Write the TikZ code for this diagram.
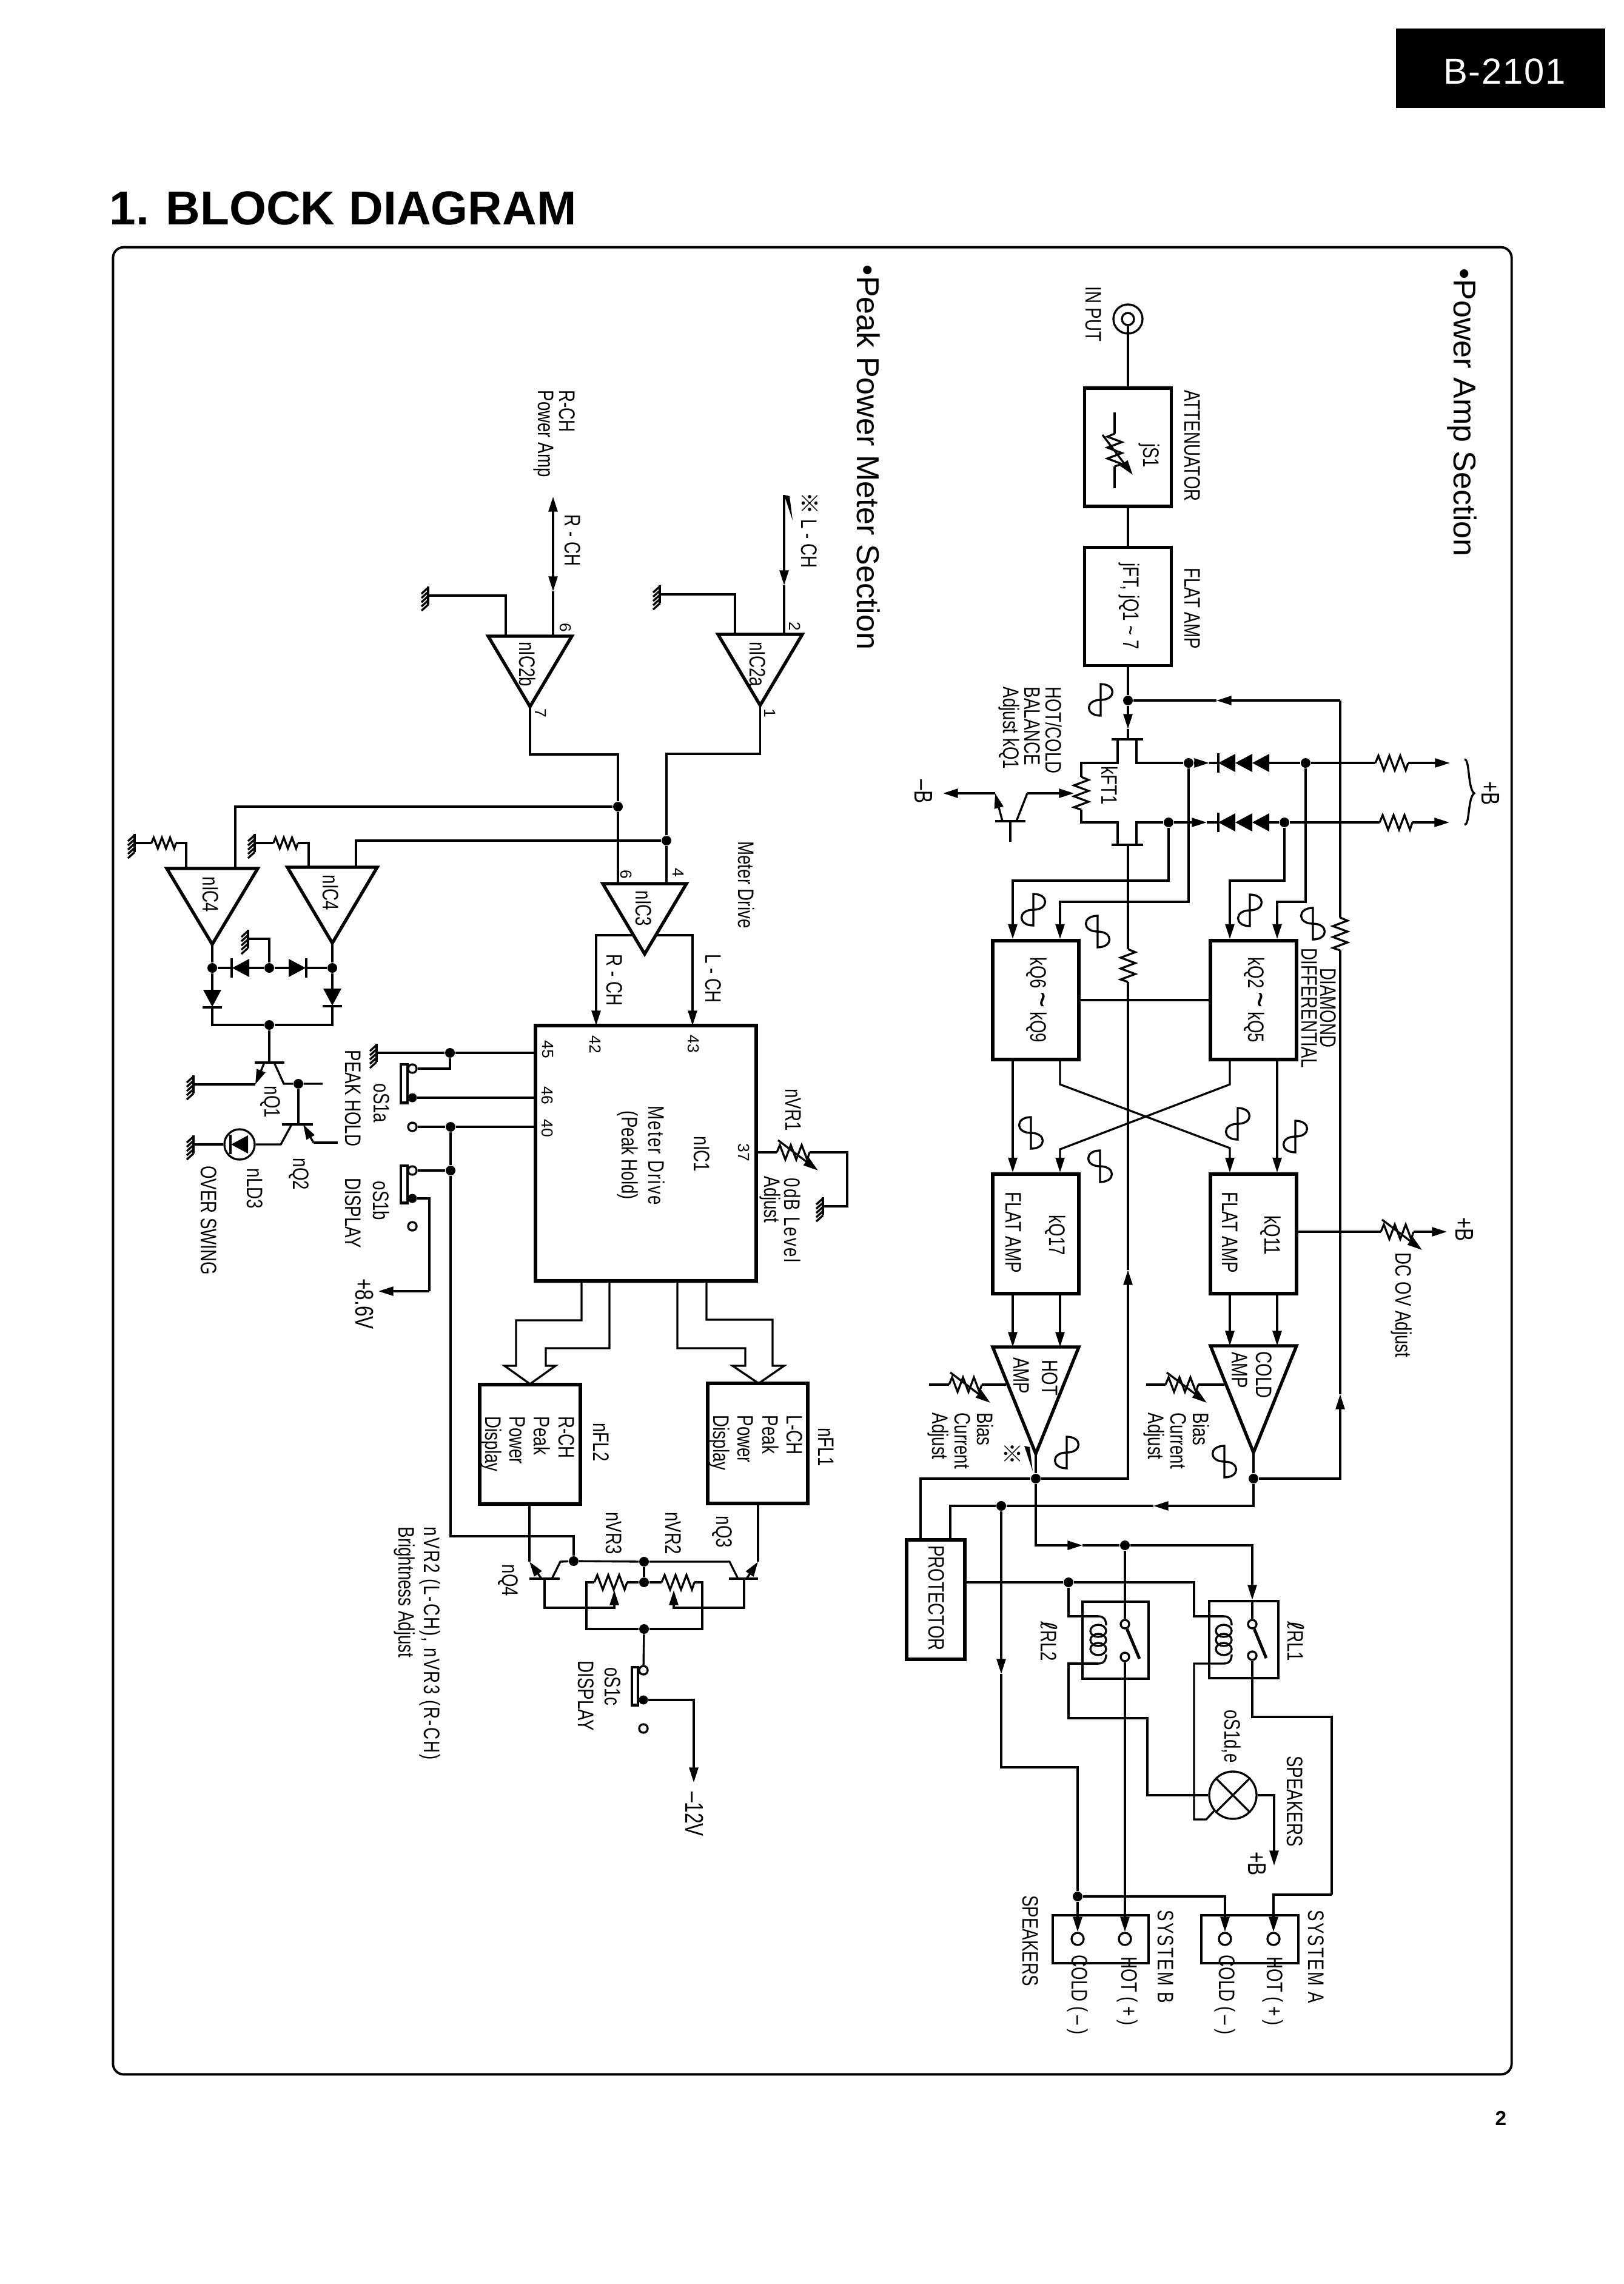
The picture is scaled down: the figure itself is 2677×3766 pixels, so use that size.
\documentclass[tikz,border=0pt]{standalone}
\usepackage{fontspec}
\usetikzlibrary{arrows.meta}
\setmainfont{Liberation Sans}
\newfontfamily\narrowfont[FakeStretch=0.75]{Liberation Sans}
\newfontfamily\spacedfont[FakeStretch=0.75,LetterSpace=6]{Liberation Sans}
\newfontfamily\badgefont[LetterSpace=3]{Liberation Sans}
\newfontfamily\cjkmark{Noto Sans CJK JP}
\newfontfamily\symfont{DejaVu Sans}
\newcommand{\zigzag}{(-27,0) -- (-22,-12) -- (-13,12) -- (-4,-12) -- (5,12) -- (14,-12) -- (23,12) -- (27,0)}
\newcommand{\wavytilde}{{\fontsize{17pt}{10pt}\selectfont\textasciitilde}}
% amplifier triangle: name, top centre x, top y, half width, apex y
\newcommand{\ampblock}[5]{%
  \coordinate (#1) at (#2,#3);
  \coordinate (#1-o) at (#2,#5);
  \draw[blockline] (#2-#4,#3) -- (#2+#4,#3) -- (#2,#5) -- cycle;
}

\begin{document}
\begin{tikzpicture}[
  x=0.01cm, y=-0.01cm,
  wire/.style={line width=0.95pt},
  barline/.style={line width=1.4pt},
  blockline/.style={line width=1.5pt, line join=miter},
  tipmark/.tip={Triangle[length=7pt, width=4.2pt]},
  arr/.style={wire, -tipmark},
  blockbox/.style 2 args={draw, line width=1.5pt, minimum width=#1*0.01cm, minimum height=#2*0.01cm, inner sep=0},
  thinbox/.style 2 args={draw, line width=1.1pt, minimum width=#1*0.01cm, minimum height=#2*0.01cm, inner sep=0},
  jdot/.style={circle, fill, inner sep=0, minimum size=0.16cm},
  odot/.style={circle, draw, wire, inner sep=0, minimum size=0.14cm},
  termdot/.style={circle, draw, wire, inner sep=0, minimum size=0.2cm},
  lbl/.style={rotate=-90, inner sep=0, align=left, font=\narrowfont\fontsize{10.5pt}{10pt}\selectfont},
  pinlbl/.style={rotate=-90, inner sep=0, font=\fontsize{7.5pt}{8pt}\selectfont},
  seclbl/.style={rotate=-90, inner sep=0, font=\fontsize{14.8pt}{16pt}\selectfont},
  pics/res/.style={code={
    \draw[wire] \zigzag;
    \coordinate (-a) at (-27,0);
    \coordinate (-b) at (27,0);
  }},
  pics/varres/.style={code={
    \draw[wire] \zigzag;
    \draw[arr] (-25,-20) -- (41,30);
    \coordinate (-a) at (-27,0);
    \coordinate (-b) at (27,0);
  }},
  pics/gnd/.style={code={
    \draw[barline] (0,-15) -- (0,15);
    \foreach \t in {-13,-6,1,8,15} {\draw[wire] (0,\t) -- (-11,\t+10);}
    \coordinate (-w) at (0,0);
  }},
  pics/diode/.style={code={
    \fill (-14,-15) -- (14,0) -- (-14,15) -- cycle;
    \draw[barline] (15,-16) -- (15,16);
    \coordinate (-a) at (-14,0);
    \coordinate (-b) at (15,0);
  }},
  pics/diodestack/.style={code={
    \foreach \d in {-28,0,28} {\fill (\d-14,-15) -- (\d+14,0) -- (\d-14,15) -- cycle;}
    \draw[barline] (42,-16) -- (42,16);
    \coordinate (-a) at (-42,0);
    \coordinate (-b) at (42,0);
  }},
  pics/wave/.style={code={
    \draw[wire] (0,-26) .. controls (26,-26) and (26,0) .. (0,0) .. controls (-26,0) and (-26,26) .. (0,26) -- cycle;
  }},
  pics/wedge/.style={code={
    \fill (-7,-22) -- (2,-20) -- (7,20) -- cycle;
  }},
  pics/coil/.style={code={
    \draw[wire] (0,-39) .. controls (10,-39) and (13,-32) .. (13,-24);
    \draw[wire] (0,39) .. controls (10,39) and (13,32) .. (13,24);
    \foreach \c in {-15,0,15} {\draw[wire] (0,\c) ellipse [x radius=13, y radius=10];}
    \coordinate (-a) at (0,-39);
    \coordinate (-b) at (0,39);
  }}
]
\path[fill=white] (0,0) rectangle (2677,3766);

% page furniture
\node[fill=black, minimum width=3.45cm, minimum height=1.31cm, inner sep=0] (badge) at (2474.5,112.5) {};
\node[text=white, inner sep=0, font=\badgefont\fontsize{17pt}{18pt}\selectfont] (badgetxt) at (2481,118) {B-2101};
\node[anchor=west, inner sep=0, font=\bfseries\fontsize{22.3pt}{24pt}\selectfont] (title) at (180,343) {1.\hspace{.35em}BLOCK\hspace{.3em}DIAGRAM};
\node[inner sep=0, font=\bfseries\fontsize{9.5pt}{10pt}\selectfont] (pageno) at (2475,3493) {2};
\node[draw, line width=1.1pt, rounded corners=5pt, minimum width=23.05cm, minimum height=30.11cm, inner sep=0] (frame) at (1339.5,1914) {};
\node[seclbl] (secpower) at (2411,680) {•Power Amp Section};
\node[seclbl] (secmeter) at (1432,754) {•Peak Power Meter Section};

% power amp blocks
\node[blockbox={143}{195}] (atbox) at (1860,737.5) {};
\node[blockbox={143}{195}] (flat1) at (1860,1000) {};
\node[blockbox={142}{196}] (kq69) at (1708,1649) {};
\node[blockbox={142}{196}] (kq25) at (2067,1649) {};
\node[blockbox={142}{197}] (kq17) at (1708,2034.5) {};
\node[blockbox={142}{197}] (kq11) at (2067,2034.5) {};
\node[blockbox={96}{197}] (protector) at (1543,2637.5) {};
\node[thinbox={109}{127}] (rl2) at (1839.5,2704.5) {};
\node[thinbox={114}{127}] (rl1) at (2051,2703.5) {};
\node[thinbox={158}{79}] (spkb) at (1815,3197.5) {};
\node[thinbox={160}{79}] (spka) at (2061,3197.5) {};
\ampblock{hotamp}{1708}{2221}{71}{2397}
\ampblock{coldamp}{2067}{2219}{71}{2395}

% meter blocks
\node[blockbox={364}{421}] (nic1) at (1065,1901.5) {};
\node[blockbox={166}{197}] (nfl2) at (874,2381.5) {};
\node[blockbox={165}{198}] (nfl1) at (1249.5,2380) {};
\ampblock{nictwob}{874}{1049}{69}{1165}
\ampblock{nictwoa}{1253.5}{1046}{69.5}{1163}
\ampblock{nicthree}{1063}{1457}{69}{1573}
\ampblock{nicfourl}{350}{1432}{75}{1557}
\ampblock{nicfourr}{548}{1430}{74}{1555}

% junctions
\foreach \n/\x/\y in {indot/1860/1155, dotu/1960/1258, dotv/2153/1258, dotw/1927/1356, dotx/2118/1356,
    dothot/1708/2438, dotcold/2067/2438, dotspk/1651/2483, dotrel/1855/2548, dotcoil/1762/2609, dotb/1777/3127,
    dotma/1019/1330, dotmb/1099/1386, dfl/350/1596, dfr/548/1596, dfm/444/1596, dfb/444/1690, dotq/492/1787,
    dot45/742/1736, dot40/743/1858, dotsb/743/1930, dotnq/946/2574, dottop/1062/2575, dotmid/1062/2609, dotlow/1062/2686}
  \node[jdot] (\n) at (\x,\y) {};
\foreach \n/\x/\y in {swta/1855/2678, swba/1855/2732, swtb/2065/2678, swbb/2065/2730,
    opa/680/1762, opb/680/1858, opc/680/1930, opd/680/2022, ope/1061/2754, opf/1061/2850}
  \node[odot] (\n) at (\x,\y) {};
\foreach \n/\x/\y in {fla/680/1810, flb/680/1976, flc/1061/2803}
  \node[jdot, minimum size=0.15cm] (\n) at (\x,\y) {};
\foreach \n/\x/\y in {termbc/1777/3197, termbh/1855/3197, termac/2020/3197, termah/2100/3197}
  \node[termdot] (\n) at (\x,\y) {};
\node[circle, draw, wire, inner sep=0, minimum size=0.48cm] (jack) at (1860,526) {};
\node[circle, draw, wire, inner sep=0, minimum size=0.2cm] (jackin) at (1860,526) {};
\node[circle, draw, wire, inner sep=0, minimum size=0.78cm] (lamp) at (2033,2960) {};
\node[circle, draw, wire, inner sep=0, minimum size=0.5cm] (led) at (395,1887) {};
\node[draw, barline, minimum width=0.11cm, minimum height=0.63cm, inner sep=0] (swa) at (666.5,1786.5) {};
\node[draw, barline, minimum width=0.11cm, minimum height=0.61cm, inner sep=0] (swb) at (666.5,1952.5) {};
\node[draw, barline, minimum width=0.1cm, minimum height=0.62cm, inner sep=0] (swc) at (1047,2780) {};

% routing points
\foreach \n/\x/\y in {gatearr/1860/1202, kgate/1860/1219, kftal/1833/1219, kftar/1885/1219, kftdl/1843/1219, kftdr/1874/1219,
    kftbl/1833/1393, kftbr/1885/1393, kftsl/1843/1393, kftsr/1874/1393, kftsrc/1860/1393,
    baltop/1783/1258, balbot/1783/1356, balwip/1771/1308,
    arru/1994/1258, arrw/1990/1356, plust/2391/1258, plusb/2390/1356,
    bracea/2415/1252, braceb/2415/1360, bracem/2431/1308,
    qal/1641/1354, qar/1691/1354, qbase/1666/1354, qbaseend/1666/1388, qcol/1676/1354, qcolk/1694/1308, qem/1653/1354, qemk/1641/1308, minusb/1555/1308,
    fbtip/2006/1155, fbcor/2210/1155, fbup/2210/2299, hfup/1860/2094,
    ka/1670/1452, kb/1748/1487, kc/2028/1452, kd/2106/1487,
    xa/1748/1788, xb/2028/1893, xc/2028/1788, xd/1748/1895,
    plusdc/2386/2031, hbl/1532/2283, hbr/1659/2283, cbl/1890/2283, cbr/2019/2283,
    atup/1838/680, atdn/1838/805,
    prl/1518/2539, prr/1567/2539, spkarr/1902/2483, spkdn/1651/2760, spkcor/1651/2914, spkc/1777/2914,
    hotarr/1785/2548, swarr/2065/2638, bla/1879/2735, blb/2088/2734, rela/2196/2831, relb/2196/3124,
    cta/1969/2609, cwa/1762/2833, cwb/1892/2833, cwc/1969/3000, cwd/1989/3000, lampout/2101/3076}
  \coordinate (\n) at (\x,\y);
\foreach \n/\x/\y in {pbg/834/1049, pbs/912/1049, rup/912/819, rmid/912/975, pag/1212/1046, pas/1293/1046, lup/1293/816, lmid/1293/965,
    mca/1019/1244, mcb/1099/1243, pta/1019/1457, ptb/1099/1457, pfa/388/1431, pfb/587/1429, pfc/307/1432, pfd/509/1430,
    ool/1045/1542, oor/1081/1542, pin42/983/1691, pin43/1142/1691, vzero/1397/1900, vzerog/1397/1989,
    qbar/444/1752, nqal/420/1752, nqar/469/1752, nqe/436/1752, nqek/421/1788, nqc/452/1752, nqck/468/1787, nqst/532/1787,
    nqbl/465/1854, nqbr/516/1854, nqbc/492/1854, nql/481/1854, nqlk/463/1887, nqr/500/1854, nqrk/517/1884, nqrs/557/1884,
    sbb/708/2129, plus86/624/2129, cfa/743/2533, cfb/946/2533, busa/959/2112, busb/1005/2112, busc/1117/2112, busd/1165/2112,
    npc/873/2575, npal/873/2603, npar/923/2603, npe/893/2603, npk/910/2603, npkk/924/2575, npb/898/2603, npw/1013/2651, npt/1013/2622,
    nrc/1250/2575, nral/1202/2603, nrar/1250/2603, nre/1231/2603, nrk/1217/2603, nrkk/1203/2575, nrb/1227/2603, nrw/1111/2651, nrt/1111/2622,
    vll/967/2609, vrr/1158/2609, minus12/1144/2939}
  \coordinate (\n) at (\x,\y);

% resistors, diodes, grounds
\pic[rotate=-90,yscale=-1] (atres) at (1838,742) {varres};
\pic[rotate=-90] (balres) at (1783,1308) {res};
\pic (rtop) at (2295,1258) {res};
\pic (rbot) at (2302,1356) {res};
\pic[rotate=-90] (fbres) at (2210,1540) {res};
\pic[rotate=-90] (hfres) at (1860,1592) {res};
\pic (dcres) at (2304,2031) {varres};
\pic (hbias) at (1592,2283) {varres};
\pic (cbias) at (1949,2283) {varres};
\pic[rotate=180] (dsta) at (2051,1258) {diodestack};
\pic[rotate=180] (dstb) at (2051,1356) {diodestack};
\pic (coilb) at (1811,2704) {coil};
\pic (coila) at (2018,2704) {coil};
\pic (zerores) at (1308,1900) {varres};
\pic[scale=.75] (rfl) at (270,1390) {res};
\pic[scale=.75] (rfr) at (471,1390) {res};
\pic (vrthree) at (1007,2609) {res};
\pic (vrtwo) at (1118,2609) {res};
\pic[rotate=180] (dha) at (397,1596) {diode};
\pic (dhb) at (490,1596) {diode};
\pic[rotate=-90] (dva) at (350,1646) {diode};
\pic[rotate=-90] (dvb) at (548,1644) {diode};
\pic[rotate=180] (dled) at (395,1887) {diode};
\foreach \n/\x/\y in {gndb/706/982, gnda/1088/980, gfl/222/1390, gfr/420/1390, gfm/409/1548, gqa/319/1788, gqb/319/1887, gsw/621/1736, gzero/1357/1989}
  \pic (\n) at (\x,\y) {gnd};
\pic (wedgehot) at (1696,2406) {wedge};
\pic (wedgeltop) at (1300,838) {wedge};
\foreach \n/\x/\y/\s in {wa/1815/1154/1, wb/1704/1500/1, wc/1810/1536/-1, wd/2061/1501/1, we/2165/1523/-1, wf/1700/1868/-1,
    wg/1814/1923/-1, wh/2041/1853/1, wi/2136/1874/1, wj/1759/2395/1, wk/2019/2410/-1}
  \pic[xscale=\s] (\n) at (\x,\y) {wave};

% input and FET stage
\draw[wire] (jackin) -- (atbox);
\draw[wire] (atbox) -- (flat1);
\draw[wire] (flat1) -- (indot);
\draw[wire] (atup) -- (atres-a);
\draw[wire] (atres-b) -- (atdn);
\draw[arr] (indot) -- (gatearr);
\draw[wire] (gatearr) -- (kgate);
\draw[barline] (kftal) -- (kftar);
\draw[barline] (kftbl) -- (kftbr);
\draw[wire] (kftdr) |- (dotu);
\draw[wire] (kftdl) |- (baltop) -- (balres-a);
\draw[wire] (balres-b) -- (balbot) -| (kftsl);
\draw[wire] (kftsr) |- (dotw);
\draw[arr] (dotu) -- (arru);
\draw[wire] (arru) -- (dsta-b);
\draw[wire] (dsta-a) -- (dotv) -- (rtop-a);
\draw[arr] (rtop-b) -- (plust);
\draw[arr] (dotw) -- (arrw);
\draw[wire] (arrw) -- (dstb-b);
\draw[wire] (dstb-a) -- (dotx) -- (rbot-a);
\draw[arr] (rbot-b) -- (plusb);
\draw[wire] (bracea) .. controls (2424,1252) and (2420,1300) .. (bracem) .. controls (2420,1316) and (2424,1360) .. (braceb);

% balance transistor
\draw[barline] (qal) -- (qar);
\draw[wire] (qbase) -- (qbaseend);
\draw[wire] (qcol) -- (qcolk);
\draw[arr] (qcolk) -- (balwip);
\draw[arr] (qem) -- (qemk);
\draw[arr] (qemk) -- (minusb);

% differential, cross coupling and output stages
\draw[arr] (dotw) |- (ka) -- (ka |- kq69.north);
\draw[arr] (dotu) |- (kb) -- (kb |- kq69.north);
\draw[arr] (dotx) |- (kc) -- (kc |- kq25.north);
\draw[arr] (dotv) |- (kd) -- (kd |- kq25.north);
\draw[wire] (kq69) -- (kq25);
\draw[arr] (ka |- kq69.south) -- (ka |- kq17.north);
\draw[arr] (kd |- kq25.south) -- (kd |- kq11.north);
\draw[arr] (kb |- kq69.south) -- (xa) -- (xb) -- (xb |- kq11.north);
\draw[arr] (kc |- kq25.south) -- (xc) -- (xd) -- (xd |- kq17.north);
\draw[arr] (ka |- kq17.south) -- (ka |- hotamp);
\draw[arr] (kb |- kq17.south) -- (kb |- hotamp);
\draw[arr] (kc |- kq11.south) -- (kc |- coldamp);
\draw[arr] (kd |- kq11.south) -- (kd |- coldamp);
\draw[wire] (kq11.east |- plusdc) -- (dcres-a);
\draw[arr] (dcres-b) -- (plusdc);
\draw[wire] (hbl) -- (hbias-a);
\draw[wire] (hbias-b) -- (hbr);
\draw[wire] (cbl) -- (cbias-a);
\draw[wire] (cbias-b) -- (cbr);
\draw[wire] (hotamp-o) -- (dothot);
\draw[wire] (coldamp-o) -- (dotcold);

% feedback paths
\draw[arr] (dotcold) -| (fbup);
\draw[wire] (fbup) -- (fbres-b);
\draw[wire] (fbres-a) -- (fbcor);
\draw[arr] (fbcor) -- (fbtip);
\draw[wire] (fbtip) -- (indot);
\draw[arr] (dothot) -| (hfup);
\draw[wire] (hfup) -- (hfres-b);
\draw[wire] (hfres-a) -- (kftsrc);

% protector, relays, speakers
\draw[wire] (dothot) -| (prl);
\draw[arr] (dotcold) |- (spkarr);
\draw[wire] (spkarr) -- (dotspk) -| (prr);
\draw[arr] (dotspk) -- (spkdn);
\draw[wire] (spkdn) -- (spkcor) -- (spkc) -- (dotb);
\draw[arr] (dotb) -- (termbc);
\draw[arr] (dotb) -| (termac);
\draw[arr] (dothot) |- (hotarr);
\draw[wire] (hotarr) -- (dotrel) -- (swta);
\draw[arr] (dotrel) -| (swarr);
\draw[wire] (swarr) -- (swtb);
\draw[barline] (swta) -- (bla);
\draw[barline] (swtb) -- (blb);
\draw[arr] (swba) -- (termbh);
\draw[wire] (swbb) |- (rela) -- (relb);
\draw[arr] (relb) -| (termah);
\draw[wire] (protector.east |- dotcoil) -- (dotcoil) -- (cta) |- (coila-a);
\draw[wire] (dotcoil) |- (coilb-a);
\draw[wire] (coilb-b) -| (cwa) -- (cwb) |- (lamp);
\draw[wire] (coila-b) -| (cwc) -- (cwd) -- (lamp.220);
\draw[wire] (lamp.45) -- (lamp.225);
\draw[wire] (lamp.135) -- (lamp.315);
\draw[arr] (lamp) -| (lampout);

% meter input amps
\draw[wire] (gndb-w) -| (pbg);
\draw[wire, tipmark-tipmark] (rup) -- (rmid);
\draw[wire] (rmid) -- (pbs);
\draw[wire] (gnda-w) -| (pag);
\draw[arr] (lup) -- (lmid);
\draw[wire] (lmid) -- (pas);
\draw[wire] (nictwob-o) |- (mca) -- (dotma) -- (pta);
\draw[wire] (nictwoa-o) |- (mcb) -- (dotmb) -- (ptb);
\draw[wire] (dotma) -| (pfa);
\draw[wire] (dotmb) -| (pfb);
\draw[arr] (ool) -| (pin42);
\draw[arr] (oor) -| (pin43);

% over swing detector
\draw[wire] (gfl-w) -- (rfl-a);
\draw[wire] (rfl-b) -| (pfc);
\draw[wire] (gfr-w) -- (rfr-a);
\draw[wire] (rfr-b) -| (pfd);
\draw[wire] (nicfourl-o) -- (dfl);
\draw[wire] (nicfourr-o) -- (dfr);
\draw[wire] (dfl) -- (dha-b);
\draw[wire] (dha-a) -- (dfm) -- (dhb-a);
\draw[wire] (dhb-b) -- (dfr);
\draw[wire] (dfm) |- (gfm-w);
\draw[wire] (dfl) -- (dva-a);
\draw[wire] (dfr) -- (dvb-a);
\draw[wire] (dva-b) |- (dfb);
\draw[wire] (dvb-b) |- (dfb);
\draw[wire] (dfb) -- (qbar);
\draw[barline] (nqal) -- (nqar);
\draw[arr] (nqe) -- (nqek);
\draw[wire] (nqek) -- (gqa-w);
\draw[wire] (nqc) -- (nqck) -- (dotq) -- (nqst);
\draw[wire] (dotq) -- (nqbc);
\draw[barline] (nqbl) -- (nqbr);
\draw[wire] (nql) -- (nqlk) -- (led);
\draw[wire] (led) -- (gqb-w);
\draw[arr] (nqrk) -- (nqr);
\draw[wire] (nqrs) -- (nqrk);

% peak hold and display switches
\draw[wire] (gsw-w) -- (dot45) -- (nic1.west |- dot45);
\draw[wire] (opa) -| (dot45);
\draw[wire] (fla) -- (nic1.west |- fla);
\draw[wire] (opb) -- (dot40) -- (nic1.west |- dot40);
\draw[wire] (dot40) -- (dotsb) -- (opc);
\draw[wire] (flb) -| (sbb);
\draw[arr] (sbb) -- (plus86);
\draw[wire] (dotsb) -- (cfa) -- (cfb) -- (dotnq);
\draw[wire] (nic1.east |- zerores-a) -- (zerores-a);
\draw[wire] (zerores-b) -- (vzero) -- (vzerog) -- (gzero-w);

% hollow bus arrows to the displays
\draw[wire] (busa) -- (959,2177) -- (851,2177) -- (851,2252) -- (832,2252) -- (874,2282) -- (916,2252) -- (900,2252) -- (900,2223) -- (1005,2223) -- (busb);
\draw[wire] (busc) -- (1117,2223) -- (1229,2223) -- (1229,2252) -- (1208,2252) -- (1251,2281) -- (1293,2252) -- (1274,2252) -- (1274,2176) -- (1165,2176) -- (busd);

% display drive and brightness
\draw[wire] (nfl2.south -| npc) -- (npc);
\draw[barline] (npal) -- (npar);
\draw[arr] (npe) -- (npc);
\draw[wire] (npk) -- (npkk) -- (dotnq) -- (dottop) -- (nrkk) -- (nrk);
\draw[barline] (nral) -- (nrar);
\draw[arr] (nre) -- (nrc);
\draw[wire] (nrc) -- (nfl1.south -| nrc);
\draw[arr] (npb) |- (npw) -- (npt);
\draw[arr] (nrb) |- (nrw) -- (nrt);
\draw[wire] (dottop) -- (dotmid);
\draw[wire] (vrthree-b) -- (dotmid) -- (vrtwo-a);
\draw[wire] (vrthree-a) -- (vll) |- (dotlow);
\draw[wire] (vrtwo-b) -- (vrr) |- (dotlow);
\draw[wire] (dotlow) -- (ope);
\draw[arr] (flc) -| (minus12);

% labels, power amp side
\node[lbl] (tinput) at (1803,518) {IN PUT};
\node[lbl] (tatt) at (1966,735) {ATTENUATOR};
\node[lbl] (tjs) at (1895,751) {jS1};
\node[lbl] (tflat) at (1966,1003) {FLAT AMP};
\node[lbl] (tjft) at (1862,1000) {jFT, jQ1 \textasciitilde\ 7};
\node[lbl, anchor=west] (tbal) at (1699,1132) {HOT/COLD\\BALANCE\\Adjust kQ1};
\node[lbl] (tkft) at (1830,1295) {kFT1};
\node[lbl] (tminus) at (1523,1305) {\fontsize{12pt}{12pt}\selectfont \textendash B};
\node[lbl] (tplus) at (2458,1308) {\fontsize{12pt}{12pt}\selectfont +B};
\node[lbl] (tkqa) at (1709,1649) {kQ6\,\wavytilde\,kQ9};
\node[lbl] (tkqb) at (2068,1649) {kQ2\,\wavytilde\,kQ5};
\node[lbl, align=center] (tdiam) at (2175,1662) {DIAMOND\\[-1pt]DIFFERENTIAL};
\node[lbl] (tflatc) at (1671,2032) {FLAT AMP};
\node[lbl] (tkqc) at (1740,2037) {kQ17};
\node[lbl] (tflatd) at (2028,2032) {FLAT AMP};
\node[lbl] (tkqd) at (2095,2037) {kQ11};
\node[lbl] (tplusb) at (2415,2027) {\fontsize{12pt}{12pt}\selectfont +B};
\node[lbl] (tdc) at (2311,2152) {DC OV Adjust};
\node[lbl] (thot) at (1731,2272) {HOT};
\node[lbl] (tampa) at (1684,2268) {AMP};
\node[lbl] (tcold) at (2084,2267) {COLD};
\node[lbl] (tampb) at (2044,2259) {AMP};
\node[lbl, anchor=west] (tbiasa) at (1584,2329) {Bias\\[0.5pt]Current\\[0.5pt]Adjust};
\node[lbl, anchor=west] (tbiasb) at (1940,2329) {Bias\\[0.5pt]Current\\[0.5pt]Adjust};
\node[lbl] (tmarka) at (1669,2397) {\cjkmark ※};
\node[lbl] (tprot) at (1544,2635) {PROTECTOR};
\node[lbl] (trlb) at (1730,2706) {{\symfont ℓ}RL2};
\node[lbl] (trla) at (2137,2706) {{\symfont ℓ}RL1};
\node[lbl] (tsw) at (2030,2863) {oS1d,e};
\node[lbl] (tspka) at (2135,2970) {SPEAKERS};
\node[lbl] (tplusc) at (2073,3073) {\fontsize{12pt}{12pt}\selectfont +B};
\node[lbl] (tspkb) at (1699,3200) {SPEAKERS};
\node[lbl] (tsysb) at (1922,3226) {\spacedfont SYSTEM B};
\node[lbl] (tsysa) at (2170,3226) {\spacedfont SYSTEM A};
\node[lbl] (tcolb) at (1777,3289) {COLD\ (\,\textendash\,)};
\node[lbl] (thotb) at (1859,3283) {HOT\ (\,+\,)};
\node[lbl] (tcola) at (2020,3289) {COLD\ (\,\textendash\,)};
\node[lbl] (thota) at (2099,3283) {HOT\ (\,+\,)};

% labels, meter side
\node[lbl, anchor=west] (trch) at (914,643) {R-CH\\Power Amp};
\node[lbl] (trchb) at (944,891) {R - CH};
\node[lbl] (tlch) at (1335,874) {{\cjkmark ※} L - CH};
\node[lbl] (tnb) at (870,1095) {nIC2b};
\node[lbl] (tna) at (1249,1095) {nIC2a};
\node[pinlbl] (tpsix) at (933,1035) {6};
\node[pinlbl] (tpseven) at (892,1176) {7};
\node[pinlbl] (tptwo) at (1311,1033) {2};
\node[pinlbl] (tpone) at (1270,1176) {1};
\node[lbl] (tnc) at (1061,1498) {nIC3};
\node[pinlbl] (tpsixb) at (1033,1442) {6};
\node[pinlbl] (tpfour) at (1119,1439) {4};
\node[lbl] (tmeter) at (1231,1459) {Meter Drive};
\node[lbl] (trchc) at (1013,1616) {R - CH};
\node[lbl] (tlchc) at (1176,1613) {L - CH};
\node[lbl] (tnd) at (347,1475) {nIC4};
\node[lbl] (tne) at (545,1472) {nIC4};
\node[pinlbl] (tpa) at (982,1722) {42};
\node[pinlbl] (tpb) at (1144,1721) {43};
\node[pinlbl] (tpc) at (903,1730) {45};
\node[pinlbl] (tpd) at (903,1806) {46};
\node[pinlbl] (tpe) at (903,1860) {40};
\node[pinlbl] (tpf) at (1227,1900) {37};
\node[lbl] (tnic) at (1157,1903) {nIC1};
\node[lbl, align=center] (tdrive) at (1057,1905) {\spacedfont Meter Drive\\[2.5pt](Peak Hold)};
\node[lbl] (tvr) at (1308,1830) {nVR1};
\node[lbl] (tzero) at (1307,2012) {\spacedfont 0dB Level};
\node[lbl] (tadj) at (1270,1978) {Adjust};
\node[lbl] (tqa) at (446,1817) {nQ1};
\node[lbl] (tqb) at (493,1936) {nQ2};
\node[lbl] (tld) at (420,1960) {nLD3};
\node[lbl] (tover) at (344,2012) {OVER SWING};
\node[lbl] (tpeak) at (582,1811) {PEAK HOLD};
\node[lbl] (tdisp) at (582,2000) {DISPLAY};
\node[lbl] (tsa) at (629,1819) {oS1a};
\node[lbl] (tsb) at (629,1980) {oS1b};
\node[lbl] (tv) at (601,2150) {\fontsize{12pt}{12pt}\selectfont +8.6V};
\node[lbl, anchor=west] (tdsr) at (870,2335) {R-CH\\[1.4pt]Peak\\[1.4pt]Power\\[1.4pt]Display};
\node[lbl, anchor=west] (tdsl) at (1246,2333) {L-CH\\[1.4pt]Peak\\[1.4pt]Power\\[1.4pt]Display};
\node[lbl] (tfltwo) at (991,2378) {nFL2};
\node[lbl] (tflone) at (1362,2386) {nFL1};
\node[lbl] (tvthree) at (1012,2528) {nVR3};
\node[lbl] (tvtwo) at (1110,2528) {nVR2};
\node[lbl] (tqc) at (1191,2526) {nQ3};
\node[lbl] (tqd) at (838,2606) {nQ4};
\node[lbl, anchor=west] (tbright) at (688,2517) {\spacedfont nVR2 (L-CH), nVR3 (R-CH)\\[2pt]Brightness Adjust};
\node[lbl] (tsc) at (1010,2781) {oS1c};
\node[lbl] (tdispc) at (966,2796) {DISPLAY};
\node[lbl] (tv12) at (1145,2991) {\fontsize{12pt}{12pt}\selectfont \textendash 12V};
\end{tikzpicture}
\end{document}
